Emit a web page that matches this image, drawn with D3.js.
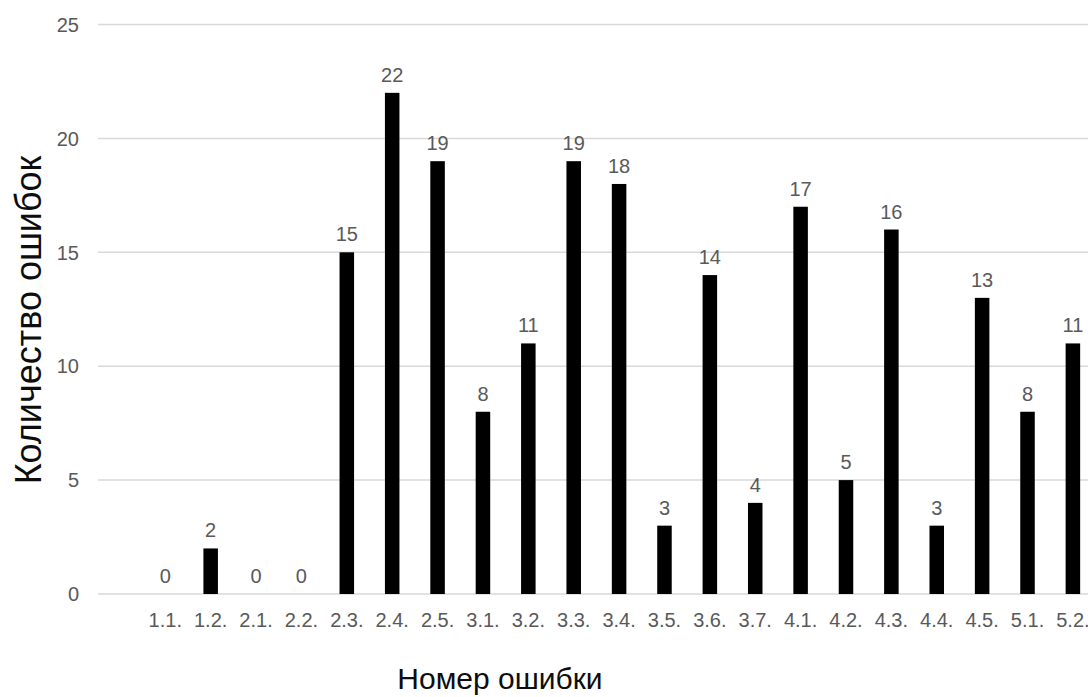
<!DOCTYPE html>
<html>
<head>
<meta charset="utf-8">
<script src="https://cdn.jsdelivr.net/npm/d3@7"></script>
<style>
  html, body { margin: 0; padding: 0; background: #fff; }
  svg { display: block; }
  text { font-family: "Liberation Sans", Arial, sans-serif; }
</style>
</head>
<body>
<svg id="chart" width="1088" height="697"></svg>
<script>
// Error codes along the category axis
const categories = ["1.1.", "1.2.", "2.1.", "2.2.", "2.3.", "2.4.", "2.5.", "3.1.", "3.2.", "3.3.", "3.4.",
                    "3.5.", "3.6.", "3.7.", "4.1.", "4.2.", "4.3.", "4.4.", "4.5.", "5.1.", "5.2."];
// Number of errors for each code
const errorCounts = [0, 2, 0, 0, 15, 22, 19, 8, 11, 19, 18, 3, 14, 4, 17, 5, 16, 3, 13, 8, 11];
// Value-axis ticks
const yTicks = [0, 5, 10, 15, 20, 25];

const width = 1088, height = 697;
const svg = d3.select("#chart");

const plot = { left: 98, right: 1088, top: 24.5, bottom: 594 };
const step = 45.38;
const firstStart = 142.6;

const x = d3.scaleBand()
  .domain(categories)
  .range([firstStart, firstStart + step * categories.length])
  .paddingInner(0.68)
  .paddingOuter(0.34);

const y = d3.scaleLinear()
  .domain([0, 25])
  .range([plot.bottom, plot.top]);

// Horizontal gridlines
svg.append("g")
  .selectAll("line")
  .data(yTicks)
  .join("line")
  .attr("x1", plot.left)
  .attr("x2", plot.right)
  .attr("y1", d => y(d))
  .attr("y2", d => y(d))
  .attr("stroke", "#d9d9d9")
  .attr("stroke-width", 1.5);

// Value-axis labels
svg.append("g")
  .selectAll("text")
  .data(yTicks)
  .join("text")
  .attr("x", 79)
  .attr("y", d => y(d))
  .attr("dy", "0.36em")
  .attr("text-anchor", "end")
  .attr("font-size", 20)
  .attr("fill", "#595959")
  .text(d => d);

// Bars
svg.append("g")
  .selectAll("rect")
  .data(errorCounts)
  .join("rect")
  .attr("x", (d, i) => x(categories[i]))
  .attr("width", x.bandwidth())
  .attr("y", d => y(d))
  .attr("height", d => y(0) - y(d))
  .attr("fill", "#000");

// Value labels above bars
svg.append("g")
  .selectAll("text")
  .data(errorCounts)
  .join("text")
  .attr("x", (d, i) => x(categories[i]) + x.bandwidth() / 2)
  .attr("y", d => y(d) - 11)
  .attr("text-anchor", "middle")
  .attr("font-size", 20)
  .attr("fill", "#595959")
  .text(d => d);

// Category labels (the last one runs off the right edge)
svg.append("g")
  .selectAll("text")
  .data(categories)
  .join("text")
  .attr("x", d => x(d) + x.bandwidth() / 2)
  .attr("y", 627)
  .attr("text-anchor", "middle")
  .attr("font-size", 20)
  .attr("fill", "#595959")
  .text(d => d);

// Axis titles
svg.append("text")
  .attr("x", 500)
  .attr("y", 689)
  .attr("text-anchor", "middle")
  .attr("font-size", 30)
  .attr("fill", "#0d0d0d")
  .text("Номер ошибки");

svg.append("text")
  .attr("transform", "translate(41,320) rotate(-90)")
  .attr("text-anchor", "middle")
  .attr("font-size", 36)
  .attr("fill", "#0d0d0d")
  .text("Количество ошибок");
</script>
</body>
</html>
